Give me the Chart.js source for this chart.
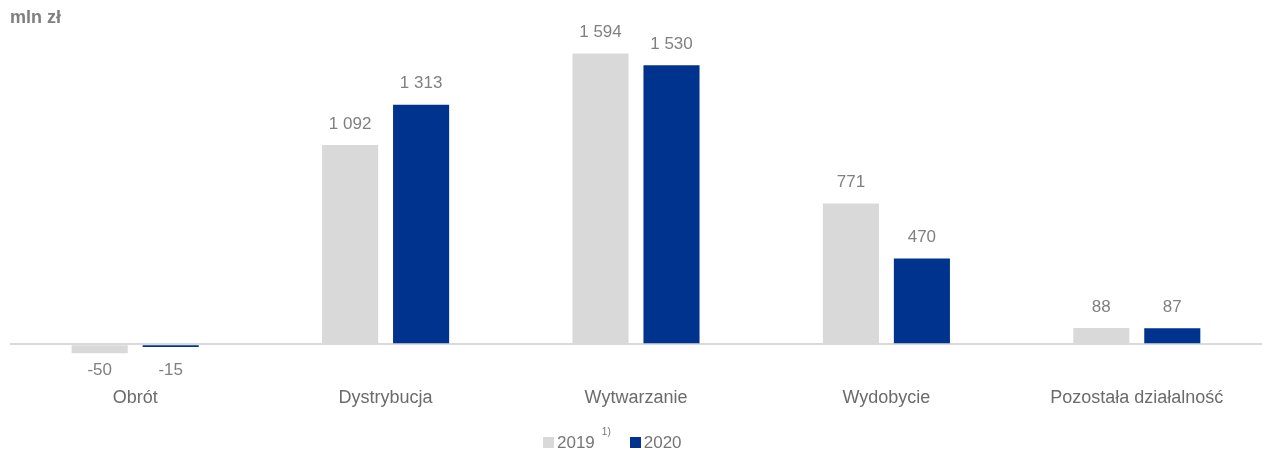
<!DOCTYPE html>
<html>
<head>
<meta charset="utf-8">
<script src="https://cdn.jsdelivr.net/npm/chart.js@4"></script>
<style>
  body { margin: 0; background: #fff; font-family: "Liberation Sans", Arial, sans-serif; }
  #wrap { position: relative; width: 1262px; height: 455px; }
  #unit { position: absolute; left: 10px; top: 7px; font-size: 18px; font-weight: bold; color: #7f7f7f; }
  #legend { position: absolute; left: 543px; top: 432px; white-space: nowrap; font-size: 17px; color: #767676; }
  #legend span.box { display: inline-block; width: 11px; height: 11px; margin-right: 3px; }
  #legend sup { font-size: 10px; position: relative; top: -6px; margin-left: 7px; margin-right: 19px; }
</style>
</head>
<body>
<div id="wrap">
  <canvas id="chart" width="1262" height="455"></canvas>
  <div id="unit">mln zł</div>
  <div id="legend">
    <span class="box" style="background:#d9d9d9"></span>2019<sup>1)</sup><span class="box" style="background:#00338d"></span>2020
  </div>
</div>
<script>
const categories = ['Obrót', 'Dystrybucja', 'Wytwarzanie', 'Wydobycie', 'Pozostała działalność'];
const values2019 = [-50, 1092, 1594, 771, 88];
const values2020 = [-15, 1313, 1530, 470, 87];

const fmt = v => {
    const s = Math.abs(v).toString().replace(/\B(?=(\d{3})+(?!\d))/g, ' ');
    return (v < 0 ? '-' : '') + s;
};

const valueLabels = {
    id: 'valueLabels',
    afterDatasetsDraw(chart) {
        const ctx = chart.ctx;
        const zero = chart.scales.y.getPixelForValue(0);
        ctx.save();
        ctx.font = '17px "Liberation Sans", Arial, sans-serif';
        ctx.fillStyle = '#808080';
        ctx.textAlign = 'center';
        ctx.textBaseline = 'middle';
        chart.data.datasets.forEach((ds, i) => {
            chart.getDatasetMeta(i).data.forEach((bar, j) => {
                const v = ds.data[j];
                const y = v < 0 ? zero + 26 : bar.y - 21;
                ctx.fillText(fmt(v), bar.x, y);
            });
        });
        ctx.restore();
    }
};

new Chart(document.getElementById('chart'), {
    type: 'bar',
    data: {
        labels: categories,
        datasets: [{
            label: '2019',
            data: values2019,
            backgroundColor: '#d9d9d9'
        }, {
            label: '2020',
            data: values2020,
            backgroundColor: '#00338d'
        }]
    },
    options: {
        responsive: false,
        animation: false,
        layout: { padding: { left: 10, right: 0, top: 16, bottom: 29 } },
        categoryPercentage: 0.567,
        barPercentage: 0.79,
        plugins: {
            legend: { display: false },
            tooltip: { enabled: false }
        },
        scales: {
            x: {
                grid: { display: false },
                border: { display: false },
                ticks: {
                    padding: 17,
                    color: '#6b6b6b',
                    font: { family: '"Liberation Sans", Arial, sans-serif', size: 18 }
                }
            },
            y: {
                min: -100,
                max: 1800,
                border: { display: false },
                ticks: { display: false, stepSize: 100 },
                grid: {
                    drawTicks: false,
                    lineWidth: 2,
                    color: c => c.tick && c.tick.value === 0 ? '#d9d9d9' : 'rgba(0,0,0,0)'
                }
            }
        }
    },
    plugins: [valueLabels]
});
</script>
</body>
</html>
